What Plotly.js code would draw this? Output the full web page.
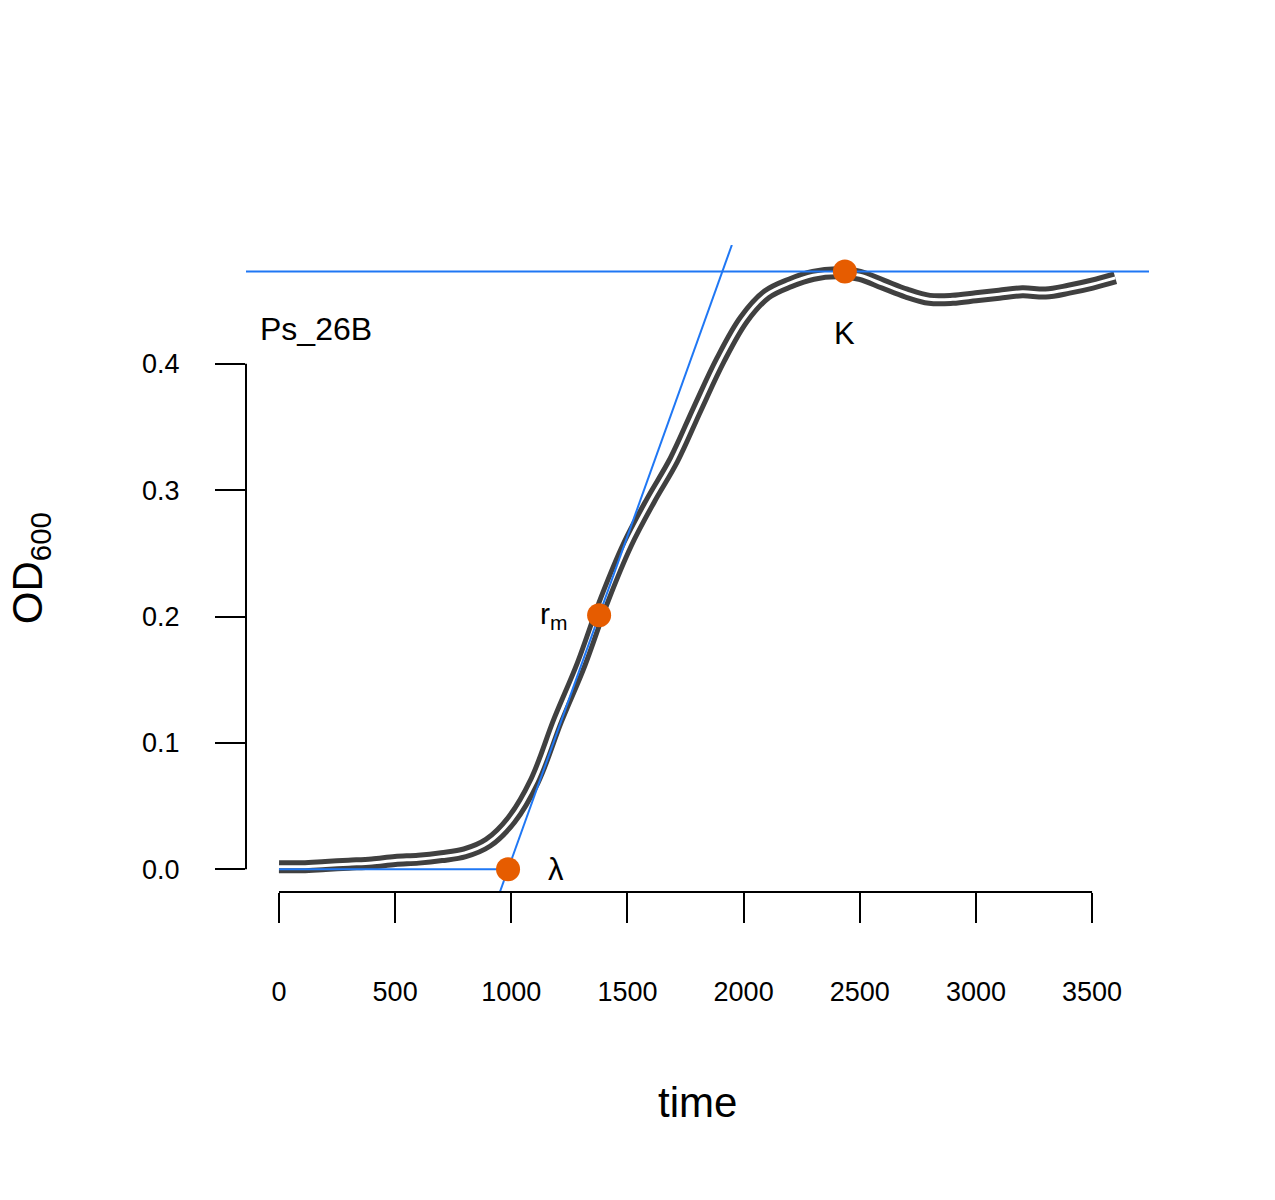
<!DOCTYPE html>
<html>
<head>
<meta charset="utf-8">
<script src="https://cdn.plot.ly/plotly-3.0.1.min.js"></script>
<style>body{margin:0;background:#fff}</style>
</head>
<body>
<div id="chart" style="width:1275px;height:1200px"></div>
<script>
// growth curve
var time = [0, 100, 200, 300, 400, 500, 600, 700, 800, 900, 1000, 1100, 1200, 1300, 1400, 1500, 1600, 1700, 1800, 1900, 2000, 2100, 2200, 2300, 2400, 2500, 2600, 2700, 2800, 2900, 3000, 3100, 3200, 3300, 3400, 3500, 3600];
var od = [0.002, 0.002, 0.003, 0.004, 0.005, 0.007, 0.008, 0.010, 0.013, 0.021, 0.039, 0.070, 0.118, 0.162, 0.213, 0.257, 0.292, 0.324, 0.364, 0.403, 0.435, 0.455, 0.464, 0.470, 0.472, 0.470, 0.463, 0.456, 0.451, 0.451, 0.453, 0.455, 0.457, 0.456, 0.459, 0.463, 0.468];

// fitted parameters
var lambda = 986;
var rmX = 1378, rmY = 0.201;
var K = 0.473;
var slope = rmY / (rmX - lambda);
var xTicks = [0, 500, 1000, 1500, 2000, 2500, 3000, 3500];
var yTicks = [0, 0.1, 0.2, 0.3, 0.4];
var yTickText = ["0.0", "0.1", "0.2", "0.3", "0.4"];

var xr = [-142, 3745], yr = [-0.018, 0.494];
var tanX = [lambda + yr[0] / slope, lambda + yr[1] / slope];

var data = [
  { x: time, y: od, mode: "lines", line: { color: "#404040", width: 13, shape: "spline" }, hoverinfo: "skip" },
  { x: time, y: od, mode: "lines", line: { color: "#ffffff", width: 3, shape: "spline" }, hoverinfo: "skip" },
  { x: xr, y: [K, K], mode: "lines", line: { color: "#1f77f4", width: 2 } },
  { x: tanX, y: [yr[0], yr[1]], mode: "lines", line: { color: "#1f77f4", width: 2 } },
  { x: [0, lambda], y: [0, 0], mode: "lines", line: { color: "#1f77f4", width: 2 } },
  { x: [lambda, rmX, 2436], y: [0, rmY, K], mode: "markers", marker: { color: "#e65c00", size: 24 } }
];

var font = { family: "Liberation Sans, Arial, sans-serif", color: "#000" };
var layout = {
  showlegend: false,
  plot_bgcolor: "#fff", paper_bgcolor: "#fff",
  margin: { l: 246, r: 126, t: 245, b: 308 },
  font: font,
  xaxis: {
    range: xr, showgrid: false, zeroline: false, showline: false,
    tickvals: xTicks, ticks: "outside", ticklen: 30, tickwidth: 2, tickcolor: "#000",
    ticklabelstandoff: 46, tickfont: { size: 27 }
  },
  yaxis: {
    range: yr, showgrid: false, zeroline: false, showline: false,
    tickvals: yTicks, ticktext: yTickText, ticks: "outside", ticklen: 30, tickwidth: 2, tickcolor: "#000",
    ticklabelstandoff: 30, tickfont: { size: 27 }
  },
  shapes: [
    { type: "line", xref: "x", yref: "paper", x0: 0, x1: 3500, y0: 0, y1: 0, line: { color: "#000", width: 2 } },
    { type: "line", xref: "paper", yref: "y", x0: 0, x1: 0, y0: 0, y1: 0.4, line: { color: "#000", width: 2 } }
  ],
  annotations: [
    { xref: "paper", yref: "paper", x: 0.013, y: 0.87, xanchor: "left", yanchor: "middle", text: "Ps_26B", showarrow: false, font: { size: 32 } },
    { x: 2436, y: K, yshift: -62, text: "K", showarrow: false, font: { size: 31 } },
    { x: rmX, y: rmY, xshift: -45, text: "r<sub>m</sub>", showarrow: false, font: { size: 30 } },
    { x: lambda, y: 0, xshift: 48, text: "λ", showarrow: false, font: { size: 31 } },
    { xref: "paper", yref: "paper", x: 0.5, y: -0.365, xanchor: "center", text: "time", showarrow: false, font: { size: 42 } },
    { xref: "paper", yref: "paper", x: -0.27, y: 0.5, text: "OD<sub>600</sub>", textangle: -90, showarrow: false, font: { size: 42 } }
  ]
};

Plotly.newPlot("chart", data, layout, { displayModeBar: false });
</script>
</body>
</html>
